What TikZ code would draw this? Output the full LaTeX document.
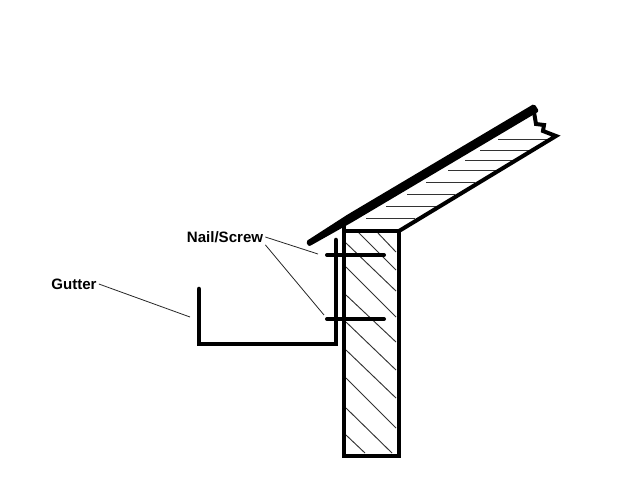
\documentclass[tikz,border=0pt]{standalone}
\usepackage{fontspec}
\setmainfont{Liberation Sans}

\tikzset{
  heavy/.style={line width=3.4pt,line cap=round,line join=miter},
  hatch/.style={line width=.7pt,black!80},
  leader/.style={line width=.6pt,black!85},
  label/.style={font=\fontsize{11.3}{13}\selectfont\bfseries,inner sep=1.5pt}
}

\begin{document}
\begin{tikzpicture}[x=.75pt,y=-.75pt]
  \useasboundingbox (0,0) rectangle (640,480);
  % Wall hatching
  \draw[hatch] (377,232)--(396,252);
  \draw[hatch] (358,232)--(396,270);
  \draw[hatch] (346,243)--(396,291);
  \draw[hatch] (346,267)--(396,317);
  \draw[hatch] (346,295)--(396,342);
  \draw[hatch] (346,322)--(396,370);
  \draw[hatch] (346,350)--(396,398);
  \draw[hatch] (346,378)--(396,428);
  \draw[hatch] (346,408)--(392,453);
  \draw[hatch] (346,435)--(365,453);
  % Rafter hatching
  \draw[hatch] (498,139)--(552,139);
  \draw[hatch] (480,150)--(530,150);
  \draw[hatch] (465,160)--(512,160);
  \draw[hatch] (448,170)--(497,170);
  \draw[hatch] (426,182)--(475,182);
  \draw[hatch] (407,194)--(455,194);
  \draw[hatch] (386,206)--(437,206);
  \draw[hatch] (366,218)--(415,218);
  % Wall and rafter
  \draw[heavy,line cap=butt] (344,224)--(344,456)--(399,456)--(399,231)--(344,231);
  \draw[heavy,line width=3pt] (399,231)--(556,136)--(543,131)--(544,125)--(536,124)--(534,112);
  % Roof
  \filldraw[line width=3pt,line join=round] (308.5,242.1)--(348.7,216.2)--(533.7,106.4)--(536.3,110.6)--(351.3,220.4)--(309.5,243.9)--cycle;
  % Gutter
  \draw[heavy] (199,289)--(199,344)--(336,344)--(336,240);
  % Nails
  \draw[heavy,line width=3pt] (327,255)--(384,255);
  \draw[heavy,line width=3pt] (327,319)--(384,319);
  % Labels
  \node[label] (nailLabel) at (225,237) {Nail/Screw};
  \node[label] (gutterLabel) at (74,284) {Gutter};
  \coordinate (nailTop) at (318,254);
  \coordinate (nailBottom) at (324,315);
  \coordinate (gutterSide) at (190,317);
  \draw[leader] (nailLabel.east)--(nailTop);
  \draw[leader] (nailLabel.south east)--(nailBottom);
  \draw[leader] (gutterLabel.east)--(gutterSide);
\end{tikzpicture}
\end{document}
